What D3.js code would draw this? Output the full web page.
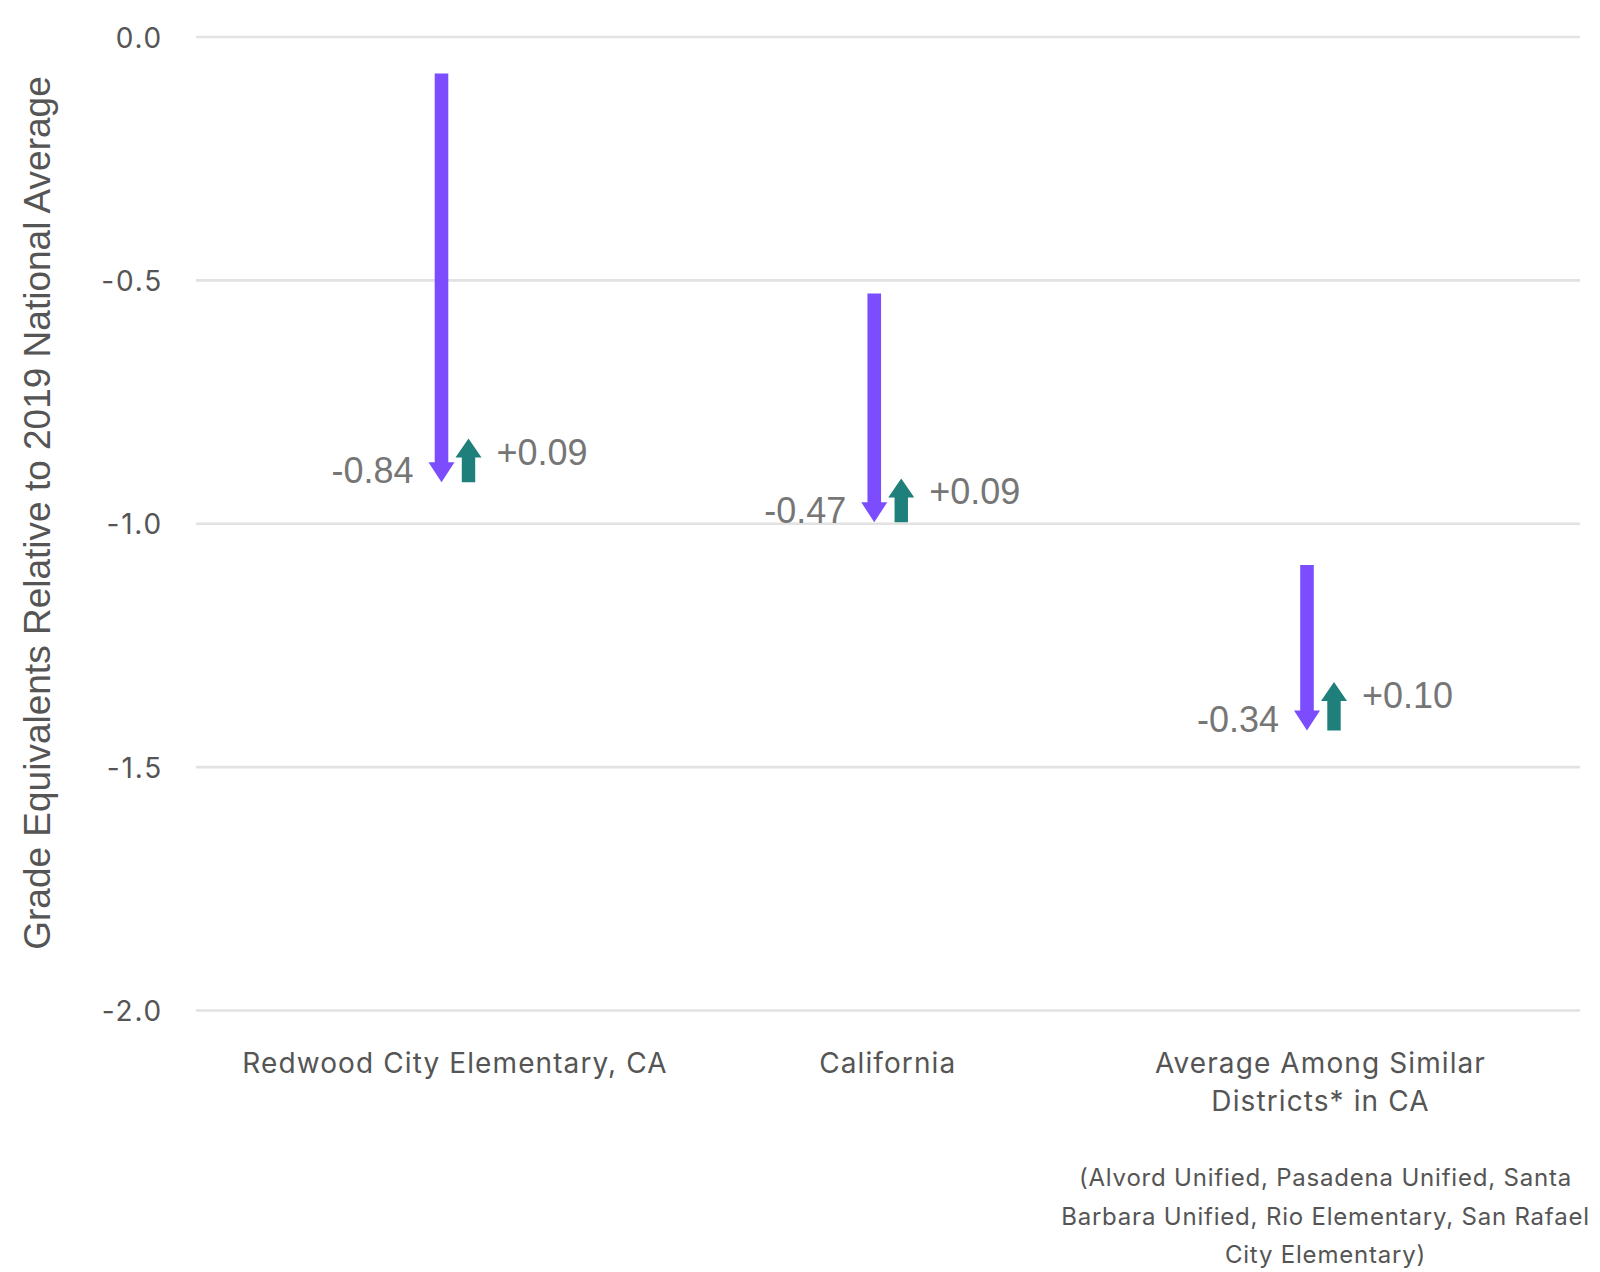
<!DOCTYPE html>
<html>
<head>
<meta charset="utf-8">
<script src="https://cdn.jsdelivr.net/npm/d3@7"></script>
<style>
  html, body { margin: 0; padding: 0; background: #fff; }
  svg { display: block; }
  .tick-label { font-family: Inter, "Liberation Sans", Arial, sans-serif; font-size: 28px; fill: #555; letter-spacing: 1.8px; }
  .axis-title { font-family: "Liberation Sans", Arial, sans-serif; font-size: 37px; fill: #555; }
  .val-label { font-family: "Liberation Sans", Arial, sans-serif; font-size: 36px; fill: #767676; }
  .cat-label { font-family: Inter, "Liberation Sans", Arial, sans-serif; font-size: 28px; fill: #555; letter-spacing: 1.1px; }
  .note { font-family: Inter, "Liberation Sans", Arial, sans-serif; font-size: 24px; fill: #555; letter-spacing: 0.8px; }
</style>
</head>
<body>
<svg id="chart" width="1600" height="1272"></svg>
<script>
// data
const categories = ['Redwood City Elementary, CA', 'California', 'Average Among Similar Districts* in CA'];
const categoryLines = [['Redwood City Elementary, CA'], ['California'], ['Average Among Similar', 'Districts* in CA']];
const startValues = [-0.076, -0.528, -1.086];   // where the decline arrow starts
const declines = [-0.84, -0.47, -0.34];
const recoveries = [0.09, 0.09, 0.10];
const yTicks = [0, -0.5, -1.0, -1.5, -2.0];
const noteLines = ['(Alvord Unified, Pasadena Unified, Santa', 'Barbara Unified, Rio Elementary, San Rafael', 'City Elementary)'];

const PURPLE = '#7c4dff', TEAL = '#1f7f7a';

const svg = d3.select('#chart');
const gridLeft = 196, gridRight = 1580;

const y = d3.scaleLinear().domain([0, -2]).range([36.5, 1010]);
const x = d3.scalePoint().domain(categories).range([455, 1320.5]);

// grid + tick labels
const axis = svg.append('g').attr('transform', `translate(${gridLeft},0)`)
  .call(d3.axisLeft(y).tickValues(yTicks).tickFormat(d => d.toFixed(1))
    .tickSize(-(gridRight - gridLeft)).tickPadding(33));
axis.select('.domain').remove();
axis.selectAll('.tick line').attr('stroke', '#e2e2e2').attr('stroke-width', 2.6);
axis.selectAll('.tick text').attr('class', 'tick-label').attr('fill', null).attr('font-size', null).attr('dy', '0.38em');
axis.attr('font-family', null).attr('font-size', null);

// y axis title
svg.append('text').attr('class', 'axis-title')
  .attr('transform', 'translate(50,513) rotate(-90)')
  .attr('text-anchor', 'middle')
  .text('Grade Equivalents Relative to 2019 National Average');

// arrow shape: vertical arrow from y0 (tail) to y1 (tip)
function arrowPath(cx, y0, y1, shaftHalf, headHalf, headLen) {
  const dir = y1 > y0 ? 1 : -1;
  const yb = y1 - dir * headLen;
  return `M${cx - shaftHalf},${y0}L${cx + shaftHalf},${y0}L${cx + shaftHalf},${yb}` +
    `L${cx + headHalf},${yb}L${cx},${y1}L${cx - headHalf},${yb}L${cx - shaftHalf},${yb}Z`;
}

const rows = categories.map((c, i) => ({
  cat: c, start: startValues[i], drop: declines[i], gain: recoveries[i],
  low: startValues[i] + declines[i], back: startValues[i] + declines[i] + recoveries[i]
}));

const g = svg.append('g');
const fmt = v => (v > 0 ? '+' : '') + v.toFixed(2);

rows.forEach(d => {
  const cxP = x(d.cat) - 13.5, cxT = x(d.cat) + 13.5;
  g.append('path').attr('d', arrowPath(cxP, y(d.start), y(d.low), 6.8, 13, 20)).attr('fill', PURPLE);
  g.append('path').attr('d', arrowPath(cxT, y(d.low), y(d.back), 6.7, 13, 19)).attr('fill', TEAL);

  g.append('text').attr('class', 'val-label').attr('text-anchor', 'end')
    .attr('x', cxP - 13 - 15).attr('y', y(d.low) + 1).text(fmt(d.drop));
  g.append('text').attr('class', 'val-label')
    .attr('x', cxT + 13 + 15).attr('y', y(d.back) + 26).text(fmt(d.gain));
});

// category labels
categories.forEach((c, i) => {
  const t = svg.append('text').attr('class', 'cat-label').attr('text-anchor', 'middle');
  categoryLines[i].forEach((line, j) => {
    t.append('tspan').attr('x', x(c)).attr('y', 1073 + j * 38).text(line);
  });
});

// footnote under third category
const note = svg.append('text').attr('class', 'note').attr('text-anchor', 'middle');
noteLines.forEach((line, j) => {
  note.append('tspan').attr('x', x(categories[2]) + 5).attr('y', 1186 + j * 38.5).text(line);
});
</script>
</body>
</html>
